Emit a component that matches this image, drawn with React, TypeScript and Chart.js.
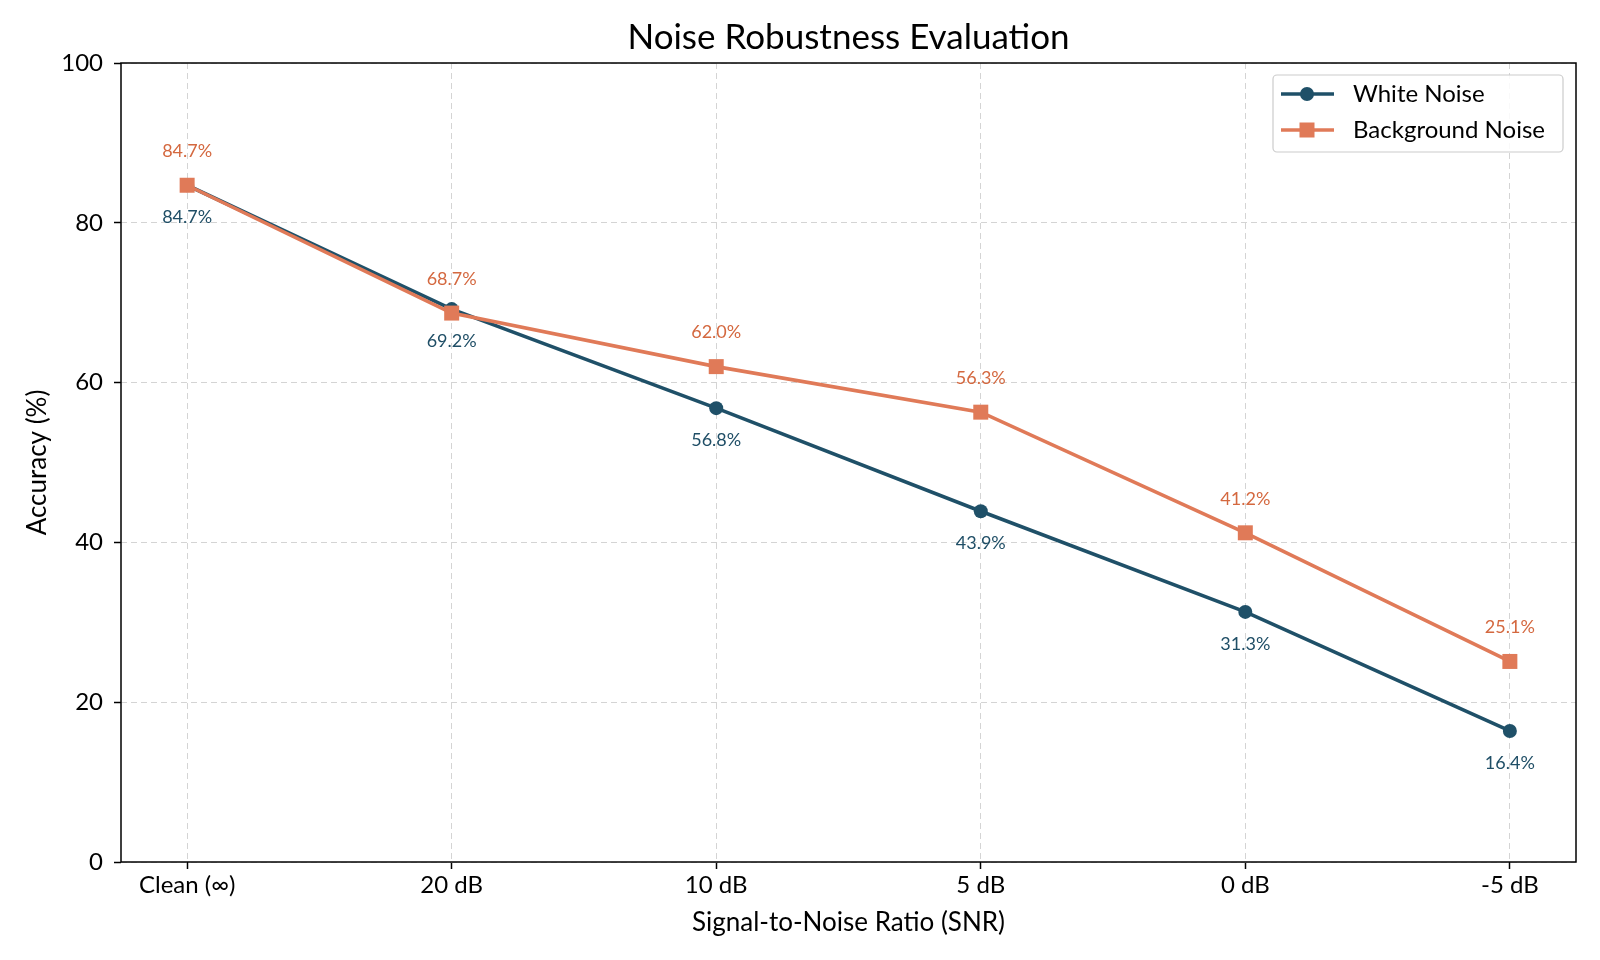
import React, { useEffect, useRef } from 'react';
import { Chart, registerables } from 'chart.js';

Chart.register(...registerables);

const categories = ['Clean (∞)', '20 dB', '10 dB', '5 dB', '0 dB', '-5 dB'];
const whiteNoise = [84.7, 69.2, 56.8, 43.9, 31.3, 16.4];
const backgroundNoise = [84.7, 68.7, 62.0, 56.3, 41.2, 25.1];
const seriesNames = ['White Noise', 'Background Noise'];
const yTickValues = [0, 20, 40, 60, 80, 100];

const FONT = "Lato, 'Noto Sans', sans-serif";
const BLUE = '#1f5068';
const ORANGE = '#e07a58';
const BLUE_TEXT = '#1f4e66';
const ORANGE_TEXT = '#d4683f';

const titlePlugin = {
  id: 'customTitle',
  afterDraw(chart: any) {
    const { ctx, chartArea } = chart;
    ctx.save();
    ctx.fillStyle = '#000';
    ctx.font = `35px ${FONT}`;
    ctx.textAlign = 'center';
    ctx.textBaseline = 'middle';
    ctx.fillText('Noise Robustness Evaluation', (chartArea.left + chartArea.right) / 2, 38);
    ctx.restore();
  },
};

const labelPlugin = {
  id: 'pointLabels',
  afterDatasetsDraw(chart: any) {
    const { ctx } = chart;
    ctx.save();
    ctx.font = `18px ${FONT}`;
    ctx.textAlign = 'center';
    ctx.textBaseline = 'middle';
    chart.data.datasets.forEach((ds: any, di: number) => {
      const meta = chart.getDatasetMeta(di);
      meta.data.forEach((pt: any, i: number) => {
        const v = ds.data[i].y;
        ctx.fillStyle = ds.labelColor;
        ctx.fillText(v.toFixed(1) + '%', pt.x, pt.y + ds.labelOffset);
      });
    });
    ctx.restore();
  },
};

const spinePlugin = {
  id: 'spines',
  afterDatasetsDraw(chart: any) {
    const { ctx, chartArea: a } = chart;
    ctx.save();
    ctx.strokeStyle = '#000';
    ctx.lineWidth = 1.5;
    ctx.strokeRect(a.left, a.top, a.right - a.left, a.bottom - a.top);
    ctx.restore();
  },
};

const legendPlugin = {
  id: 'customLegend',
  afterDraw(chart: any) {
    const { ctx } = chart;
    const x0 = 1273, y0 = 75, w = 290, h = 77;
    ctx.save();
    ctx.fillStyle = 'rgba(255,255,255,0.85)';
    ctx.strokeStyle = '#cccccc';
    ctx.lineWidth = 1.2;
    ctx.beginPath();
    ctx.roundRect(x0, y0, w, h, 4);
    ctx.fill();
    ctx.stroke();
    const rows = [94, 130];
    chart.data.datasets.forEach((ds: any, di: number) => {
      const y = rows[di];
      ctx.strokeStyle = ds.borderColor;
      ctx.lineWidth = ds.borderWidth;
      ctx.beginPath();
      ctx.moveTo(1281, y);
      ctx.lineTo(1334, y);
      ctx.stroke();
      ctx.fillStyle = ds.backgroundColor;
      if (ds.pointStyle === 'rect') {
        ctx.fillRect(1307 - 7.5, y - 7.5, 15, 15);
      } else {
        ctx.beginPath();
        ctx.arc(1307, y, 7, 0, Math.PI * 2);
        ctx.fill();
      }
      ctx.fillStyle = '#000';
      ctx.font = `24px ${FONT}`;
      ctx.textAlign = 'left';
      ctx.textBaseline = 'middle';
      ctx.fillText(ds.label, 1353, y);
    });
    ctx.restore();
  },
};

export default function App() {
  const ref = useRef<HTMLCanvasElement>(null);
  useEffect(() => {
    document.body.style.margin = '0';
    const chart = new Chart(ref.current!, {
      type: 'line',
      data: {
        datasets: [
          {
            label: seriesNames[0],
            data: whiteNoise.map((y, i) => ({ x: i, y })),
            borderColor: BLUE,
            backgroundColor: BLUE,
            borderWidth: 3.6,
            pointStyle: 'circle',
            pointRadius: 7,
            pointHoverRadius: 7,
            pointBorderWidth: 0,
            order: 2,
            labelColor: BLUE_TEXT,
            labelOffset: 32,
          } as any,
          {
            label: seriesNames[1],
            data: backgroundNoise.map((y, i) => ({ x: i, y })),
            borderColor: ORANGE,
            backgroundColor: ORANGE,
            borderWidth: 3.6,
            pointStyle: 'rect',
            pointRadius: 10.6,
            pointHoverRadius: 10.6,
            pointBorderWidth: 0,
            order: 1,
            labelColor: ORANGE_TEXT,
            labelOffset: -34,
          } as any,
        ],
      },
      options: {
        animation: false,
        responsive: true,
        maintainAspectRatio: false,
        devicePixelRatio: 1,
        layout: { padding: { left: 0, right: 24, top: 63, bottom: 0 } },
        plugins: {
          legend: { display: false },
          title: { display: false },
          tooltip: { enabled: false },
        },
        scales: {
          x: {
            type: 'linear',
            min: -0.25,
            max: categories.length - 0.75,
            afterBuildTicks: (scale: any) => {
              scale.ticks = categories.map((_, i) => ({ value: i }));
            },
            afterFit: (scale: any) => {
              scale.height = 98;
            },
            ticks: {
              autoSkip: false,
              maxRotation: 0,
              padding: 2,
              color: '#000',
              font: { family: FONT, size: 24 },
              callback: (v: any) => categories[v] ?? '',
            },
            grid: {
              color: '#d4d4d4',
              lineWidth: 1,
              tickLength: 7,
              tickColor: '#000',
              tickWidth: 1.5,
              tickBorderDash: [],
            },
            border: { display: false, dash: [6, 4] },
            title: {
              display: true,
              text: 'Signal-to-Noise Ratio (SNR)',
              color: '#000',
              font: { family: FONT, size: 26 },
              padding: { top: 0, bottom: 22 },
            },
          },
          y: {
            min: 0,
            max: 100,
            afterBuildTicks: (scale: any) => {
              scale.ticks = yTickValues.map((v) => ({ value: v }));
            },
            afterFit: (scale: any) => {
              scale.width = 121;
            },
            ticks: {
              padding: 11,
              color: '#000',
              font: { family: FONT, size: 24 },
            },
            grid: {
              color: '#d4d4d4',
              lineWidth: 1,
              tickLength: 7,
              tickColor: '#000',
              tickWidth: 1.5,
              tickBorderDash: [],
            },
            border: { display: false, dash: [6, 4] },
            title: {
              display: true,
              text: 'Accuracy (%)',
              color: '#000',
              font: { family: FONT, size: 26 },
              padding: { top: 22, bottom: 0 },
            },
          },
        },
      },
      plugins: [labelPlugin, spinePlugin, titlePlugin, legendPlugin],
    });
    return () => chart.destroy();
  }, []);
  return (
    <div style={{ position: 'fixed', left: 0, top: 0, width: 1600, height: 960 }}>
      <canvas ref={ref} />
    </div>
  );
}
